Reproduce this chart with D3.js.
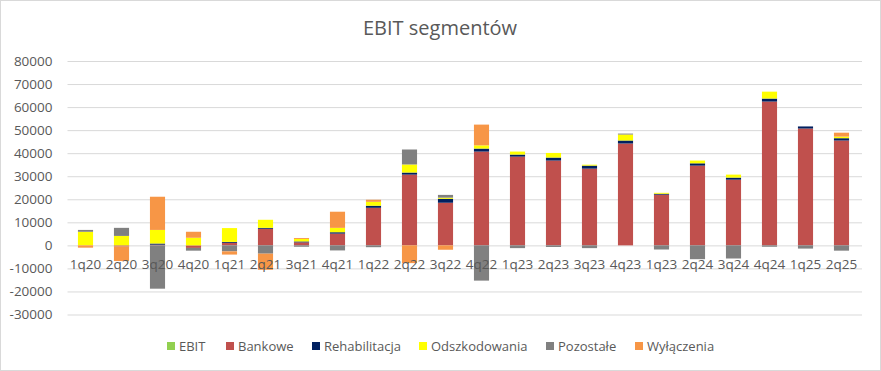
<!DOCTYPE html>
<html>
<head>
<meta charset="utf-8">
<script src="https://cdn.jsdelivr.net/npm/d3@7"></script>
<style>
  body { margin: 0; background: #fff; }
  text { font-family: "Open Sans", sans-serif; fill: #595959; }
</style>
</head>
<body>
<div id="chart"></div>
<script>
// quarters as written on the original chart (second "1q23" is in the source)
const quarters = ["1q20", "2q20", "3q20", "4q20", "1q21", "2q21", "3q21", "4q21",
  "1q22", "2q22", "3q22", "4q22", "1q23", "2q23", "3q23", "4q23",
  "1q23", "2q24", "3q24", "4q24", "1q25", "2q25"];

const ebit          = [0, 0, 0, 0, 0, 0, 0, 0, 0, 0, 0, 0, 0, 0, 0, 0, 0, 0, 0, 0, 0, 0];
const bankowe       = [0, -500, 300, -1100, 1100, 7200, 1300, 5100, 16300, 30700, 18500, 40700,
  38500, 36800, 33300, 44200, 22000, 34600, 28500, 62400, 50700, 45500];
const rehabilitacja = [0, 0, 500, 0, 400, 400, 400, 600, 900, 900, 1700, 1300,
  900, 1300, 1300, 1300, 400, 1000, 900, 1300, 900, 1000];
const odszkodowania = [5900, 4100, 5900, 3300, 6000, 3500, 1100, 1900, 1700, 3500, 500, 1400,
  1300, 2000, 400, 2600, 400, 1200, 1300, 3000, 0, 700];
const pozostale     = [800, 3500, -18800, -1200, -2600, -3600, -600, -2200, -800, 6500, 1200, -15300,
  -1200, -700, -1200, 400, -1800, -6000, -5700, -600, -1400, -2300];
const wylaczenia    = [-1000, -6300, 14400, 2600, -1400, -7000, 400, 7000, 900, -7700, -1900, 9000,
  0, 0, 0, 0, 0, 0, 0, 0, 0, 1700];

const seriesNames = ["EBIT", "Bankowe", "Rehabilitacja", "Odszkodowania", "Pozostałe", "Wyłączenia"];
const seriesValues = [ebit, bankowe, rehabilitacja, odszkodowania, pozostale, wylaczenia];
const colors = ["#92D050", "#C0504D", "#002060", "#FFFF00", "#808080", "#F79646"];
const yTicks = [-30000, -20000, -10000, 0, 10000, 20000, 30000, 40000, 50000, 60000, 70000, 80000];

const width = 881, height = 371;
const plot = { left: 67.5, right: 859.5, top: 61, bottom: 314.5 };

const svg = d3.select("#chart")
  .append("svg")
  .attr("width", width)
  .attr("height", height);

svg.append("rect")
  .attr("x", 0.5).attr("y", 0.5)
  .attr("width", width - 1).attr("height", height - 1)
  .attr("fill", "#fff")
  .attr("stroke", "#D9D9D9");

// table for the stack
let table = quarters.map((q, i) => {
  let row = { i: i, q: q };
  seriesNames.forEach((s, k) => row[s] = seriesValues[k][i]);
  return row;
});

let stacked = d3.stack()
  .keys(seriesNames)
  .offset(d3.stackOffsetDiverging)(table);

let x = d3.scaleBand()
  .domain(d3.range(quarters.length))
  .range([plot.left, plot.right])
  .paddingInner(0.58)
  .paddingOuter(0.29);

let y = d3.scaleLinear()
  .domain([-30000, 80000])
  .range([plot.bottom, plot.top]);

// grid + y labels
svg.append("g")
  .attr("transform", `translate(${plot.left},0)`)
  .call(d3.axisLeft(y).tickValues(yTicks).tickSize(-(plot.right - plot.left + 2.5)).tickPadding(15).tickFormat(d => d))
  .call(g => g.select(".domain").remove())
  .call(g => g.selectAll("line").attr("stroke", "#D9D9D9").attr("stroke-width", 1))
  .call(g => g.selectAll("text").attr("font-size", "13.5px").attr("fill", "#595959").style("font-family", "Open Sans"));

// bars
svg.append("g")
  .selectAll("g")
  .data(stacked)
  .join("g")
  .attr("fill", (d, k) => colors[k])
  .selectAll("rect")
  .data(d => d)
  .join("rect")
  .attr("x", d => x(d.data.i))
  .attr("width", x.bandwidth())
  .attr("y", d => y(Math.max(d[0], d[1])))
  .attr("height", d => Math.abs(y(d[0]) - y(d[1])));

// category labels next to the zero line
svg.append("g")
  .selectAll("text")
  .data(quarters)
  .join("text")
  .attr("x", (d, i) => x(i) + x.bandwidth() / 2)
  .attr("y", y(0) + 24)
  .attr("text-anchor", "middle")
  .attr("font-size", "13.5px")
  .text(d => d);

// title
svg.append("text")
  .attr("x", 440)
  .attr("y", 35)
  .attr("text-anchor", "middle")
  .attr("font-size", "20px")
  .text("EBIT segmentów");

// legend
const legendX = [167, 226, 312, 419, 546, 635];
let legend = svg.append("g")
  .selectAll("g")
  .data(seriesNames)
  .join("g")
  .attr("transform", (d, k) => `translate(${legendX[k]},346)`);

legend.append("rect")
  .attr("y", -4)
  .attr("width", 8).attr("height", 8)
  .attr("fill", (d, k) => colors[k]);

legend.append("text")
  .attr("x", 12)
  .attr("y", 5)
  .attr("font-size", "13px")
  .text(d => d);
</script>
</body>
</html>
